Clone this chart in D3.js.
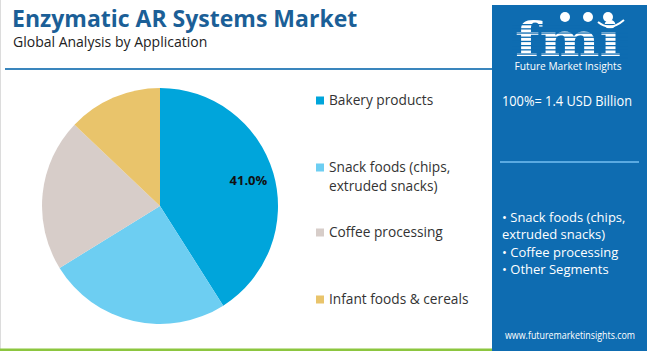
<!DOCTYPE html>
<html><head><meta charset="utf-8">
<script src="https://cdn.jsdelivr.net/npm/d3@7"></script>
<style>
html,body{margin:0;padding:0;background:#fff;}
svg{display:block;font-family:"Open Sans","Noto Sans",sans-serif;}
</style></head>
<body>
<script>
const categories = ["Bakery products", "Snack foods (chips, extruded snacks)", "Coffee processing", "Infant foods & cereals"];
const legendLines = [["Bakery products"], ["Snack foods (chips,", "extruded snacks)"], ["Coffee processing"], ["Infant foods & cereals"]];
const values = [41.0, 25.2, 20.9, 12.9];
const colors = ["#00a5db", "#6dcef2", "#d7cdc9", "#e9c46b"];
const shownLabels = ["41.0%", "", "", ""];
const panelLines = ["• Snack foods (chips,", "extruded snacks)", "• Coffee processing", "• Other Segments"];

const W = 650, H = 351;
const svg = d3.select("body").append("svg").attr("width", W).attr("height", H);

// left border & bottom strip
svg.append("rect").attr("x",0).attr("y",0).attr("width",1).attr("height",H).attr("fill","#dcdcdc");
svg.append("rect").attr("x",0).attr("y",348.5).attr("width",492).attr("height",2.5).attr("fill","#8cc63f");

// title
svg.append("text").attr("x",12).attr("y",27).attr("font-size",23).attr("font-weight",700)
  .attr("fill","#1b5f97").text("Enzymatic AR Systems Market");
svg.append("text").attr("x",13).attr("y",47).attr("font-size",14).attr("fill","#222")
  .text("Global Analysis by Application");
svg.append("rect").attr("x",5).attr("y",68).attr("width",487).attr("height",2).attr("fill","#3a86bd");

// pie
const cx = 160, cy = 206, r = 118;
const pie = d3.pie().sort(null).value(d => d)(values);
const arc = d3.arc().innerRadius(0).outerRadius(r);
const g = svg.append("g").attr("transform", `translate(${cx},${cy})`);
g.selectAll("path").data(pie).join("path").attr("d", arc).attr("fill", (d,i) => colors[i]);
const labelArc = d3.arc().innerRadius(r*0.78).outerRadius(r*0.78);
g.selectAll("text.lbl").data(pie).join("text").attr("class","lbl")
  .attr("transform", d => `translate(${labelArc.centroid(d)})`)
  .attr("text-anchor","middle").attr("dy","0.35em")
  .attr("font-size",13).attr("font-weight",700).attr("fill","#111")
  .text((d,i) => shownLabels[i]);

// legend
const legY = [105, 172, 237, 304];
const leg = svg.append("g");
legendLines.forEach((lines, i) => {
  leg.append("rect").attr("x",316).attr("y",legY[i]-8.5).attr("width",8).attr("height",8).attr("fill",colors[i]);
  lines.forEach((t, j) => {
    leg.append("text").attr("x",329).attr("y",legY[i] + j*18.5).attr("font-size",13.7).attr("fill","#333").text(t);
  });
});

// right panel
svg.append("rect").attr("x",492).attr("y",5).attr("width",155).attr("height",346).attr("fill","#0e6cb1");
// logo
const logo = svg.append("g");
logo.append("text").attr("x",568).attr("y",56).attr("text-anchor","middle")
  .attr("font-family","DejaVu Serif, serif").attr("font-weight",700).attr("font-size",46)
  .attr("fill","#fff").attr("textLength",106).attr("lengthAdjust","spacingAndGlyphs").text("fmi");
for (let y = 24; y < 58; y += 4.2) {
  logo.append("rect").attr("x",512).attr("y",y).attr("width",116).attr("height",1.3).attr("fill","#0e6cb1");
}
[[565,17],[588,17],[608,17]].forEach(([x,y]) => {
  logo.append("circle").attr("cx",x).attr("cy",y).attr("r",5).attr("fill","#fff");
});
logo.append("path").attr("d","M598,22 Q610,32 624,20").attr("stroke","#fff").attr("stroke-width",2).attr("fill","none");
logo.append("text").attr("x",568).attr("y",70).attr("text-anchor","middle").attr("font-size",10)
  .attr("fill","#fff").attr("textLength",107).attr("lengthAdjust","spacingAndGlyphs").text("Future Market Insights");

svg.append("text").attr("x",502).attr("y",106).attr("font-size",14.5).attr("fill","#fff")
  .attr("textLength",130).attr("lengthAdjust","spacingAndGlyphs")
  .text("100%= 1.4 USD Billion");
svg.append("rect").attr("x",500).attr("y",161).attr("width",139).attr("height",2).attr("fill","#5aaae2");
panelLines.forEach((t,i) => {
  svg.append("text").attr("x",502).attr("y",222 + i*17.3).attr("font-size",13).attr("fill","#fff").text(t);
});
svg.append("text").attr("x",505).attr("y",339).attr("font-size",10)
  .attr("fill","#fff").attr("textLength",130).attr("lengthAdjust","spacingAndGlyphs").text("www.futuremarketinsights.com");
</script>
</body></html>
